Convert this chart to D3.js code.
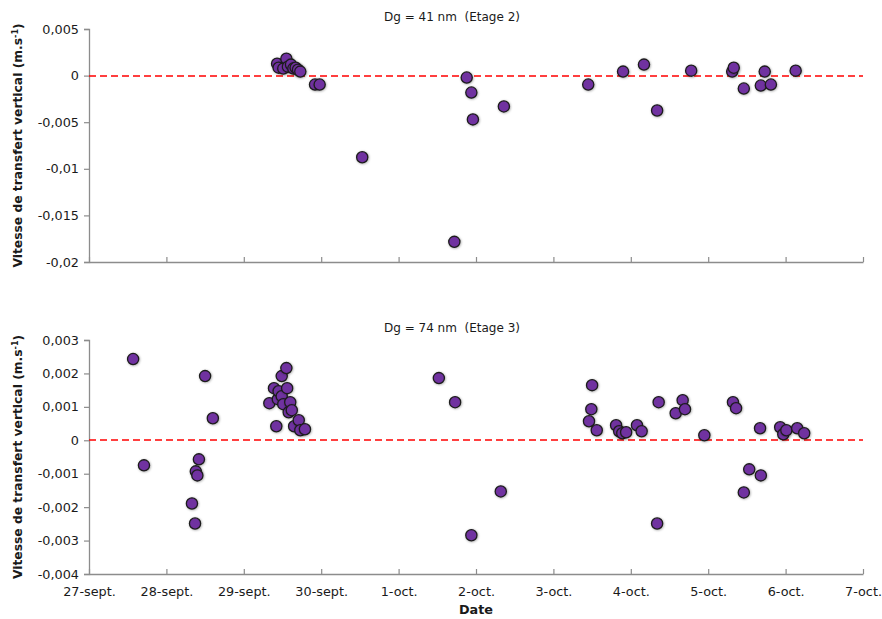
<!DOCTYPE html>
<html>
<head>
<meta charset="utf-8">
<script src="https://cdn.jsdelivr.net/npm/d3@7"></script>
<style>
  html, body { margin: 0; padding: 0; background: #fff; }
  svg { display: block; }
  text { font-family: "DejaVu Sans", sans-serif; fill: #1a1a1a; }
</style>
</head>
<body>
<svg id="chart" width="882" height="619"></svg>
<script>
// ---- Data (day offset from 27-sept., value in m.s-1) ----
const dateLabels = ["27-sept.", "28-sept.", "29-sept.", "30-sept.", "1-oct.", "2-oct.", "3-oct.", "4-oct.", "5-oct.", "6-oct.", "7-oct."];

const topTitle = "Dg = 41 nm  (Etage 2)";
const topDays = [2.43, 2.45, 2.51, 2.55, 2.57, 2.61, 2.64, 2.67, 2.70, 2.73,
  2.92, 2.98, 3.53, 4.72, 4.88, 4.94, 4.96, 5.36, 6.45, 6.90,
  7.17, 7.34, 7.78, 8.31, 8.33, 8.46, 8.68, 8.73, 8.81, 9.13];
const topValues = [0.00128, 0.00085, 0.00075, 0.00182, 0.00096, 0.00118, 0.00075, 0.00085, 0.00064, 0.00043,
  -0.00096, -0.00096, -0.00876, -0.01784, -0.00021, -0.00182, -0.0047, -0.00331, -0.00096, 0.00043,
  0.00118, -0.00374, 0.00053, 0.00043, 0.00085, -0.00139, -0.00107, 0.00043, -0.00096, 0.00053];
const topYTicks = [0.005, 0, -0.005, -0.01, -0.015, -0.02];

const bottomTitle = "Dg = 74 nm  (Etage 3)";
const bottomDays = [0.57, 0.71, 1.33, 1.37, 1.38, 1.40, 1.42, 1.50, 1.60,
  2.33, 2.39, 2.42, 2.44, 2.45, 2.49, 2.49, 2.51, 2.55, 2.56, 2.58, 2.60, 2.62, 2.65, 2.71, 2.73, 2.79,
  4.52, 4.73, 4.94, 5.32,
  6.50, 6.49, 6.46, 6.56, 6.81, 6.85, 6.89, 6.94, 7.08, 7.14, 7.36, 7.34, 7.58, 7.67, 7.70, 7.95,
  8.32, 8.36, 8.53, 8.46, 8.68, 8.67, 8.93, 8.97, 9.01, 9.15, 9.24];
const bottomValues = [0.00243, -0.00075, -0.00189, -0.00249, -0.00093, -0.00105, -0.00057, 0.00192, 0.00066,
  0.00111, 0.00156, 0.00042, 0.00123, 0.00147, 0.00132, 0.00192, 0.00108, 0.00216, 0.00156, 0.00084, 0.00114, 0.0009, 0.00042, 0.0006, 0.0003, 0.00033,
  0.00186, 0.00114, -0.00284, -0.00153,
  0.00165, 0.00093, 0.00057, 0.0003, 0.00045, 0.00027, 0.00021, 0.00024, 0.00045, 0.00027, 0.00114, -0.00249, 0.00081, 0.0012, 0.00093, 0.00015,
  0.00114, 0.00096, -0.00087, -0.00156, -0.00105, 0.00036, 0.00039, 0.00018, 0.0003, 0.00036, 0.00021];
const bottomYTicks = [0.003, 0.002, 0.001, 0, -0.001, -0.002, -0.003, -0.004];

const yLabel = "Vitesse de transfert vertical (m.s";
const xLabel = "Date";

// ---- Drawing ----
const svg = d3.select("#chart");
const defs = svg.append("defs");
const f = defs.append("filter").attr("id", "shadow").attr("x", "-50%").attr("y", "-50%").attr("width", "200%").attr("height", "200%");
f.append("feDropShadow").attr("dx", 0.6).attr("dy", 0.6).attr("stdDeviation", 0.9).attr("flood-color", "#000").attr("flood-opacity", 0.35);

const left = 89, right = 863;
const x = d3.scaleLinear().domain([0, 10]).range([left, right]);
const frFmt = v => (v === 0 ? "0" : d3.format("")(+v.toFixed(4)).replace(".", ",").replace("−", "-"));

function panel(opts) {
  const y = d3.scaleLinear().domain(opts.domain).range([opts.bottom, opts.top]);
  const g = svg.append("g");

  // y axis
  const yAxis = d3.axisLeft(y).tickValues(opts.yTicks).tickSize(5).tickPadding(5)
    .tickFormat(d => frFmt(d));
  const ya = g.append("g").attr("transform", `translate(${left},0)`).call(yAxis);
  ya.select(".domain").attr("stroke", "#8c8c8c").attr("stroke-width", 1.3);
  ya.selectAll(".tick line").attr("stroke", "#8c8c8c").attr("stroke-width", 1.2);
  ya.selectAll(".tick text").attr("font-size", 12.8).attr("font-family", "DejaVu Sans").attr("fill", "#1a1a1a");

  // x axis (ticks pointing inside)
  const xAxis = d3.axisBottom(x).tickValues(d3.range(0, 11)).tickSizeInner(-5).tickSizeOuter(0)
    .tickPadding(opts.showX ? 13 : 0)
    .tickFormat((d, i) => opts.showX ? dateLabels[i] : "");
  const xa = g.append("g").attr("transform", `translate(0,${opts.bottom})`).call(xAxis);
  xa.select(".domain").attr("stroke", "#8c8c8c").attr("stroke-width", 1.3);
  xa.selectAll(".tick line").attr("stroke", "#8c8c8c").attr("stroke-width", 1.2);
  xa.selectAll(".tick text").attr("font-size", 12.8).attr("font-family", "DejaVu Sans").attr("fill", "#1a1a1a");

  // zero line
  const y0 = Math.round(y(0));
  g.append("line")
    .attr("x1", x(0)).attr("x2", x(10)).attr("y1", y0).attr("y2", y0)
    .attr("stroke", "#ff0000").attr("stroke-width", 1.6).attr("stroke-dasharray", "7,4");

  // points
  g.append("g").selectAll("circle")
    .data(opts.days.map((d, i) => ({ d, v: opts.values[i] })))
    .join("circle")
    .attr("cx", p => x(p.d)).attr("cy", p => y(p.v)).attr("r", 5.6)
    .attr("fill", "#7030a0").attr("stroke", "#1c1c1c").attr("stroke-width", 1.3)
    .attr("filter", "url(#shadow)");

  // title
  g.append("text").attr("x", 452).attr("y", opts.top - 8)
    .attr("text-anchor", "middle").attr("font-size", 12)
    .style("white-space", "pre").text(opts.title);

  // y label
  const cy = (opts.top + opts.bottom) / 2;
  const t = g.append("text").attr("transform", `translate(22,${cy}) rotate(-90)`)
    .attr("text-anchor", "middle").attr("font-size", 12.3).attr("font-weight", "bold")
    .attr("font-family", "DejaVu Sans Condensed");
  t.append("tspan").text(yLabel);
  t.append("tspan").attr("font-size", 8).attr("dy", -4).text("-1");
  t.append("tspan").attr("dy", 4).text(")");
}

panel({ domain: [-0.02, 0.005], top: 29, bottom: 262, yTicks: topYTicks, days: topDays, values: topValues, title: topTitle, showX: false });
panel({ domain: [-0.004, 0.003], top: 340, bottom: 574, yTicks: bottomYTicks, days: bottomDays, values: bottomValues, title: bottomTitle, showX: true });

svg.append("text").attr("x", 476).attr("y", 614).attr("text-anchor", "middle")
  .attr("font-size", 12.8).attr("font-weight", "bold").text(xLabel);
</script>
</body>
</html>
